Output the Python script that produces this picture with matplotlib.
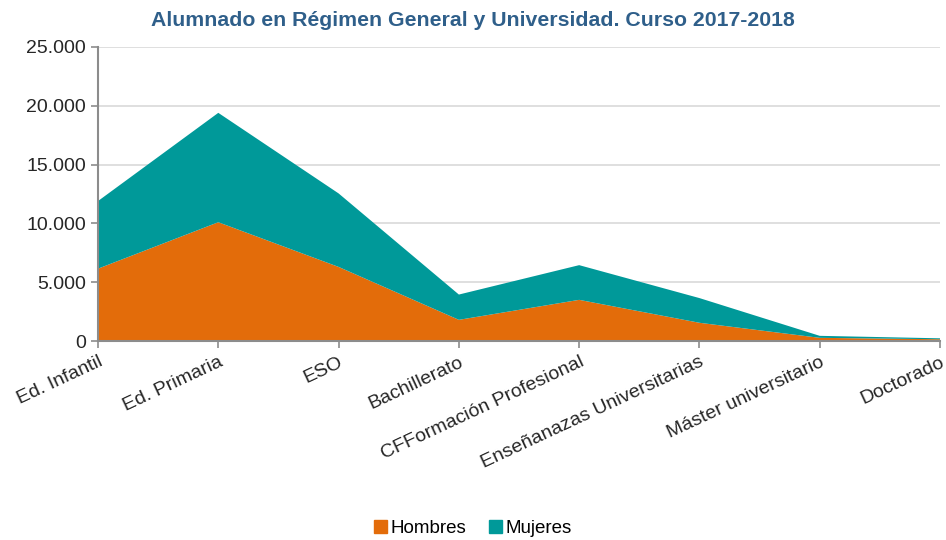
import matplotlib.pyplot as plt
from matplotlib.patches import Patch
from matplotlib.ticker import FuncFormatter

plt.rcParams['font.family'] = ['Liberation Sans', 'DejaVu Sans']

niveles = ['Ed. Infantil', 'Ed. Primaria', 'ESO', 'Bachillerato',
           'CFFormación Profesional', 'Enseñanazas Universitarias',
           'Máster universitario', 'Doctorado']
hombres = [6150, 10100, 6300, 1800, 3500, 1550, 270, 150]
mujeres = [5750, 9300, 6250, 2150, 2950, 2100, 170, 80]

color_h = '#e36c0a'
color_m = '#009999'

fig = plt.figure(figsize=(9.46, 5.4), dpi=100)
ax = fig.add_axes([0.1036, 0.3685, 0.8901, 0.5445])

x = list(range(len(niveles)))
ax.stackplot(x, hombres, mujeres, colors=[color_h, color_m], linewidth=0)

ax.set_xlim(0, len(niveles) - 1)
ax.set_ylim(0, 25000)
ax.set_yticks(range(0, 25001, 5000))
ax.yaxis.set_major_formatter(FuncFormatter(lambda v, p: f'{int(v):,}'.replace(',', '.')))
ax.set_xticks(x)
ax.set_xticklabels(niveles, rotation=25, ha='right', rotation_mode='anchor')

ax.grid(axis='y', color='#d9d9d9', linewidth=1.2)
ax.set_axisbelow(True)
for s in ['top', 'right']:
    ax.spines[s].set_visible(False)
for s in ['left', 'bottom']:
    ax.spines[s].set_color('#8c8c8c')
    ax.spines[s].set_linewidth(1.5)
    ax.spines[s].set_zorder(5)
ax.tick_params(axis='both', colors='#8c8c8c', length=5, width=1.2, labelsize=14,
               labelcolor='#262626')
ax.tick_params(axis='x', pad=4)

fig.text(0.5, 0.962, 'Alumnado en Régimen General y Universidad. Curso 2017-2018',
         ha='center', va='center', fontsize=15.3, fontweight='bold', color='#2f5f8a')

handles = [Patch(color=color_h, label='Hombres'), Patch(color=color_m, label='Mujeres')]
fig.legend(handles=handles, loc='center', bbox_to_anchor=(0.5, 0.022), ncol=2,
           frameon=False, fontsize=13.5, handlelength=0.7, handleheight=0.7,
           handletextpad=0.2, columnspacing=1.2)

fig.savefig('out.png', dpi=100)
